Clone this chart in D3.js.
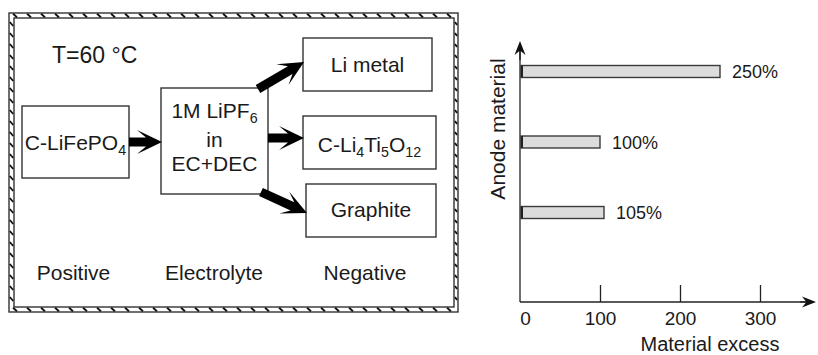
<!DOCTYPE html>
<html>
<head>
<meta charset="utf-8">
<script src="https://cdn.jsdelivr.net/npm/d3@7"></script>
<style>
  html, body { margin: 0; padding: 0; background: #fff; }
  svg { display: block; }
  text { font-family: "Liberation Sans", Arial, sans-serif; fill: #1a1a1a; }
</style>
</head>
<body>
<svg id="fig" width="818" height="355"></svg>
<script>
// ---- Data -------------------------------------------------------------
const anodes = ["Li metal", "C-Li4Ti5O12", "Graphite"];
const excessValues = [250, 100, 105];
const excessLabels = ["250%", "100%", "105%"];
const xTicks = [0, 100, 200, 300];
const stageLabels = ["Positive", "Electrolyte", "Negative"];
const temperatureLabel = "T=60 °C";

const svg = d3.select("#fig");

// ---- Left panel: cell set-up diagram ----------------------------------
const frame = { x0: 9, y0: 13, x1: 458, y1: 312, band: 5, bandRight: 4 };
const gFrame = svg.append("g");
gFrame.append("rect")
  .attr("x", frame.x0).attr("y", frame.y0)
  .attr("width", frame.x1 - frame.x0).attr("height", frame.y1 - frame.y0)
  .attr("fill", "none").attr("stroke", "#222").attr("stroke-width", 1.3);
gFrame.append("rect")
  .attr("x", frame.x0 + frame.band).attr("y", frame.y0 + frame.band)
  .attr("width", frame.x1 - frame.bandRight - frame.x0 - frame.band)
  .attr("height", frame.y1 - frame.y0 - 2 * frame.band)
  .attr("fill", "none").attr("stroke", "#222").attr("stroke-width", 1.3);

// hatching inside the frame band
const hatch = [];
for (let x = frame.x0 + 4; x < frame.x1 - 8; x += 14) {
  hatch.push([x, frame.y0 + 0.8, x + 4, frame.y0 + frame.band - 0.8]);
  hatch.push([x, frame.y1 - frame.band + 0.8, x + 4, frame.y1 - 0.8]);
}
for (let y = frame.y0 + 9; y < frame.y1 - 8; y += 11) {
  hatch.push([frame.x0 + 0.8, y, frame.x0 + frame.band - 0.8, y + 4]);
  hatch.push([frame.x1 - frame.bandRight + 1, y, frame.x1 - 1, y + 3]);
}
gFrame.selectAll("line.h").data(hatch).join("line")
  .attr("x1", d => d[0]).attr("y1", d => d[1])
  .attr("x2", d => d[2]).attr("y2", d => d[3])
  .attr("stroke", "#111").attr("stroke-width", 1.8);

// boxes of the diagram
const boxes = [
  { id: "pos", x: 22, y: 106, w: 107, h: 72 },
  { id: "ele", x: 161, y: 88, w: 107, h: 106 },
  { id: "li", x: 303, y: 38, w: 129, h: 53 },
  { id: "lto", x: 303, y: 116, w: 133, h: 53 },
  { id: "gr", x: 306, y: 184, w: 130, h: 53 }
];
svg.append("g").selectAll("rect").data(boxes).join("rect")
  .attr("x", d => d.x).attr("y", d => d.y)
  .attr("width", d => d.w).attr("height", d => d.h)
  .attr("fill", "#fff").attr("stroke", "#333").attr("stroke-width", 1.4);

// rich text with subscripts: array of [text, isSub]
function richText(g, x, y, parts, size) {
  const t = g.append("text").attr("x", x).attr("y", y)
    .attr("text-anchor", "middle").attr("font-size", size);
  let sub = false;
  parts.forEach(([s, isSub]) => {
    const ts = t.append("tspan").text(s);
    if (isSub && !sub) { ts.attr("dy", 5).attr("font-size", size * 0.68); sub = true; }
    else if (!isSub && sub) { ts.attr("dy", -5); sub = false; }
    else if (isSub) ts.attr("font-size", size * 0.68);
  });
  return t;
}
const gTxt = svg.append("g");
const fs = 21;
gTxt.append("text").attr("x", 52).attr("y", 63).attr("font-size", 23).text(temperatureLabel);
richText(gTxt, 75.5, 150, [["C-LiFePO", false], ["4", true]], fs);
richText(gTxt, 214.5, 118, [["1M LiPF", false], ["6", true]], fs);
richText(gTxt, 214.5, 147, [["in", false]], fs);
richText(gTxt, 214.5, 171, [["EC+DEC", false]], fs);
richText(gTxt, 367.5, 72, [[anodes[0], false]], fs);
richText(gTxt, 369.5, 152, [["C-Li", false], ["4", true], ["Ti", false], ["5", true], ["O", false], ["12", true]], fs);
richText(gTxt, 371, 217, [[anodes[2], false]], fs);

const stageX = [73.5, 214, 365];
gTxt.selectAll("text.stage").data(stageLabels).join("text")
  .attr("class", "stage")
  .attr("x", (d, i) => stageX[i]).attr("y", 280)
  .attr("text-anchor", "middle").attr("font-size", fs).text(d => d);

// thick flow arrows (shaft + barbed head)
function arrowPath(s, e, opt) {
  const { L, W, w, d } = opt;
  const dx = e[0] - s[0], dy = e[1] - s[1];
  const len = Math.hypot(dx, dy);
  const ux = dx / len, uy = dy / len, nx = -uy, ny = ux;
  const b = [e[0] - ux * (L - d), e[1] - uy * (L - d)];
  const h = [e[0] - ux * L, e[1] - uy * L];
  const p = d3.path();
  p.moveTo(s[0] + nx * w, s[1] + ny * w);
  p.lineTo(b[0] + nx * w, b[1] + ny * w);
  p.lineTo(h[0] + nx * W, h[1] + ny * W);
  p.lineTo(e[0], e[1]);
  p.lineTo(h[0] - nx * W, h[1] - ny * W);
  p.lineTo(b[0] - nx * w, b[1] - ny * w);
  p.lineTo(s[0] - nx * w, s[1] - ny * w);
  p.closePath();
  return p.toString();
}
const flows = [
  { s: [129, 142], e: [162, 142] },
  { s: [258, 89], e: [304, 62] },
  { s: [268, 138], e: [304, 138] },
  { s: [261, 192], e: [307, 213] }
];
svg.append("g").selectAll("path").data(flows).join("path")
  .attr("d", f => arrowPath(f.s, f.e, { L: 25, W: 12, w: 4.5, d: 9 }))
  .attr("fill", "#000");

// ---- Right panel: anode material excess -------------------------------
const x = d3.scaleLinear().domain([0, 300]).range([520, 760]);
const y = d3.scaleBand().domain(anodes).range([65.5, 218.5])
  .paddingInner(0.83).paddingOuter(0);
const axisY = 302;

const gChart = svg.append("g");
// axes with arrowheads
gChart.append("line").attr("x1", x(0)).attr("x2", 810).attr("y1", axisY).attr("y2", axisY)
  .attr("stroke", "#222").attr("stroke-width", 1.3);
gChart.append("line").attr("x1", x(0)).attr("x2", x(0)).attr("y1", axisY).attr("y2", 48)
  .attr("stroke", "#222").attr("stroke-width", 1.3);
gChart.append("path").attr("d", arrowPath([800, axisY], [816, axisY], { L: 14, W: 5.5, w: 0.6, d: 4 }))
  .attr("fill", "#111");
gChart.append("path").attr("d", arrowPath([x(0), 60], [x(0), 41], { L: 14, W: 5.5, w: 0.6, d: 4 }))
  .attr("fill", "#111");

// x axis ticks pointing inward
const xAxis = d3.axisBottom(x).tickValues(xTicks).tickSizeInner(-17).tickSizeOuter(0)
  .tickFormat(d3.format("d")).tickPadding(10);
const gx = gChart.append("g").attr("transform", `translate(0,${axisY})`).call(xAxis);
gx.select(".domain").remove();
gx.selectAll(".tick line").attr("stroke", "#222").attr("stroke-width", 1.3)
  .filter(d => d === 0).remove();
gx.selectAll(".tick text").attr("font-size", 19).attr("fill", "#1a1a1a")
  .attr("font-family", "Liberation Sans, Arial, sans-serif")
  .attr("dx", d => d === 0 ? 5 : 0);

gChart.append("text").attr("x", 710).attr("y", 351).attr("text-anchor", "middle")
  .attr("font-size", 20).text("Material excess");
gChart.append("text").attr("transform", "translate(505,129) rotate(-90)")
  .attr("text-anchor", "middle").attr("font-size", 21).text("Anode material");

// bars
gChart.selectAll("rect.bar").data(anodes).join("rect")
  .attr("class", "bar")
  .attr("x", x(0) + 1).attr("y", d => y(d))
  .attr("width", (d, i) => x(excessValues[i]) - x(0) - 1)
  .attr("height", y.bandwidth())
  .attr("fill", "#dcdcdc").attr("stroke", "#3a3a3a").attr("stroke-width", 1.4);
gChart.selectAll("line.barEdge").data(anodes).join("line")
  .attr("x1", x(0) + 2).attr("x2", x(0) + 2)
  .attr("y1", d => y(d)).attr("y2", d => y(d) + y.bandwidth())
  .attr("stroke", "#222").attr("stroke-width", 2);
gChart.selectAll("text.val").data(anodes).join("text")
  .attr("class", "val")
  .attr("x", (d, i) => x(excessValues[i]) + 12)
  .attr("y", d => y(d) + y.bandwidth() / 2 + 6.5)
  .attr("font-size", 18).text((d, i) => excessLabels[i]);
</script>
</body>
</html>
